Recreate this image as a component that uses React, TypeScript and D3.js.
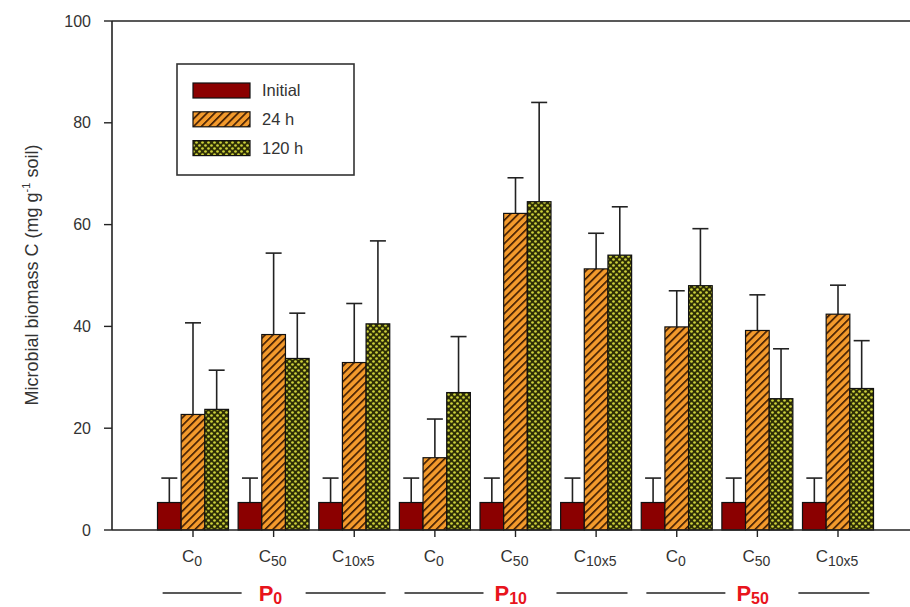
import React from "react";
import * as d3 from "d3";

// Treatment groups along the x axis (phosphorus level × carbon addition)
const categories = ["P0C0", "P0C50", "P0C10x5", "P10C0", "P10C50", "P10C10x5", "P50C0", "P50C50", "P50C10x5"];
const carbonBase = ["C", "C", "C", "C", "C", "C", "C", "C", "C"];
const carbonSub = ["0", "50", "10x5", "0", "50", "10x5", "0", "50", "10x5"];
const phosphorusGroups = ["0", "10", "50"];

const seriesNames = ["Initial", "24 h", "120 h"];

// Means (mg g-1 soil)
const initialMean = [5.4, 5.4, 5.4, 5.4, 5.4, 5.4, 5.4, 5.4, 5.4];
const h24Mean = [22.7, 38.4, 32.9, 14.2, 62.2, 51.3, 39.9, 39.2, 42.4];
const h120Mean = [23.7, 33.7, 40.5, 27.0, 64.5, 54.0, 48.0, 25.8, 27.8];

// Upper end of the error bars
const initialUpper = [10.2, 10.2, 10.2, 10.2, 10.2, 10.2, 10.2, 10.2, 10.2];
const h24Upper = [40.7, 54.4, 44.5, 21.8, 69.2, 58.3, 47.0, 46.2, 48.1];
const h120Upper = [31.4, 42.6, 56.8, 38.0, 84.0, 63.5, 59.2, 35.6, 37.2];

const yTicks = [0, 20, 40, 60, 80, 100];

const W = 910;
const H = 607;
const FONT = "'Liberation Sans', Arial, sans-serif";
const TEXT = "#333";

export default function App() {
  const y = d3.scaleLinear().domain([0, 100]).range([530, 21]);
  const x = d3.scalePoint<string>().domain(categories).range([193, 838]);
  const inner = d3.scaleBand<string>().domain(seriesNames).range([-35.5, 35.5]);

  const means = [initialMean, h24Mean, h120Mean];
  const uppers = [initialUpper, h24Upper, h120Upper];
  const fills = ["#8b0000", "url(#hatch)", "url(#dots)"];

  const x0 = 112;
  const xEnd = 918;

  return (
    <svg width={W} height={H} style={{ position: "absolute", left: 0, top: 0, background: "#fff" }} fontFamily={FONT}>
      <defs>
        <pattern id="hatch" patternUnits="userSpaceOnUse" width="5.5" height="5.5" patternTransform="rotate(45)">
          <rect width="5.5" height="5.5" fill="#f39a2c" />
          <line x1="0" y1="0" x2="0" y2="5.5" stroke="#3a1800" strokeWidth="3.2" />
        </pattern>
        <pattern id="dots" patternUnits="userSpaceOnUse" width="6" height="6">
          <rect width="6" height="6" fill="#2e2e06" />
          <circle cx="1.5" cy="1.5" r="1.35" fill="#cdd23a" />
          <circle cx="4.5" cy="4.5" r="1.35" fill="#cdd23a" />
        </pattern>
      </defs>

      {/* bars and error bars */}
      {categories.map((c, i) => (
        <g key={c}>
          {seriesNames.map((s, k) => {
            const bx = (x(c) as number) + (inner(s) as number);
            const bw = inner.bandwidth();
            const top = y(means[k][i]);
            const cx = bx + bw / 2;
            const up = y(uppers[k][i]);
            return (
              <g key={s}>
                <line x1={cx} x2={cx} y1={top} y2={up} stroke="#222" strokeWidth={1.6} />
                <line x1={cx - 8} x2={cx + 8} y1={up} y2={up} stroke="#222" strokeWidth={1.6} />
                <rect x={bx} y={top} width={bw} height={y(0) - top} fill={fills[k]} stroke="#111" strokeWidth={1.2} />
              </g>
            );
          })}
        </g>
      ))}

      {/* axes */}
      <line x1={x0} x2={x0} y1={y(100)} y2={y(0)} stroke="#222" strokeWidth={1.6} />
      <line x1={x0} x2={xEnd} y1={y(0)} y2={y(0)} stroke="#222" strokeWidth={1.6} />
      <line x1={x0} x2={xEnd} y1={y(100)} y2={y(100)} stroke="#222" strokeWidth={1.6} />
      {yTicks.map((t) => (
        <g key={t}>
          <line x1={x0 - 8} x2={x0} y1={y(t)} y2={y(t)} stroke="#222" strokeWidth={1.4} />
          <text x={91} y={y(t)} dy="0.35em" textAnchor="end" fontSize={16} fill={TEXT}>
            {t}
          </text>
        </g>
      ))}
      {categories.map((c, i) => (
        <g key={c}>
          <line x1={x(c)} x2={x(c)} y1={y(0)} y2={y(0) + 7} stroke="#222" strokeWidth={1.4} />
          <text x={(x(c) as number) - 1} y={562} textAnchor="middle" fontSize={17} fill={TEXT}>
            {carbonBase[i]}
            <tspan fontSize={14} dy={4}>{carbonSub[i]}</tspan>
          </text>
        </g>
      ))}

      {/* phosphorus group labels with flanking rules */}
      {phosphorusGroups.map((p, g) => {
        const cx = x(categories[g * 3 + 1]) as number;
        const wide = p.length > 1;
        return (
          <g key={p}>
            <line x1={cx - 111} x2={cx - 32} y1={593} y2={593} stroke="#222" strokeWidth={1.4} />
            <line x1={cx + (wide ? 41 : 32)} x2={cx + 112} y1={593} y2={593} stroke="#222" strokeWidth={1.4} />
            <text x={wide ? cx - 21 : cx - 15} y={601} fontSize={22} fontWeight="bold" fill="#e8141c">
              P<tspan fontSize={16} dy={3}>{p}</tspan>
            </text>
          </g>
        );
      })}

      {/* y axis title */}
      <text transform="translate(38,275) rotate(-90)" textAnchor="middle" fontSize={18} fill={TEXT}>
        Microbial biomass C (mg g<tspan fontSize={11} dy={-8}>-1</tspan>
        <tspan dy={8}> soil)</tspan>
      </text>

      {/* legend */}
      <g>
        <rect x={177} y={64} width={177} height={111} fill="#fff" stroke="#333" strokeWidth={1.6} />
        {seriesNames.map((s, k) => {
          const ly = 83 + k * 28.8;
          return (
            <g key={s}>
              <rect x={193} y={ly} width={57} height={15} fill={fills[k]} stroke="#111" strokeWidth={1.2} />
              <text x={262} y={ly + 7.5} dy="0.35em" fontSize={16.5} fill={TEXT}>
                {s}
              </text>
            </g>
          );
        })}
      </g>
    </svg>
  );
}
